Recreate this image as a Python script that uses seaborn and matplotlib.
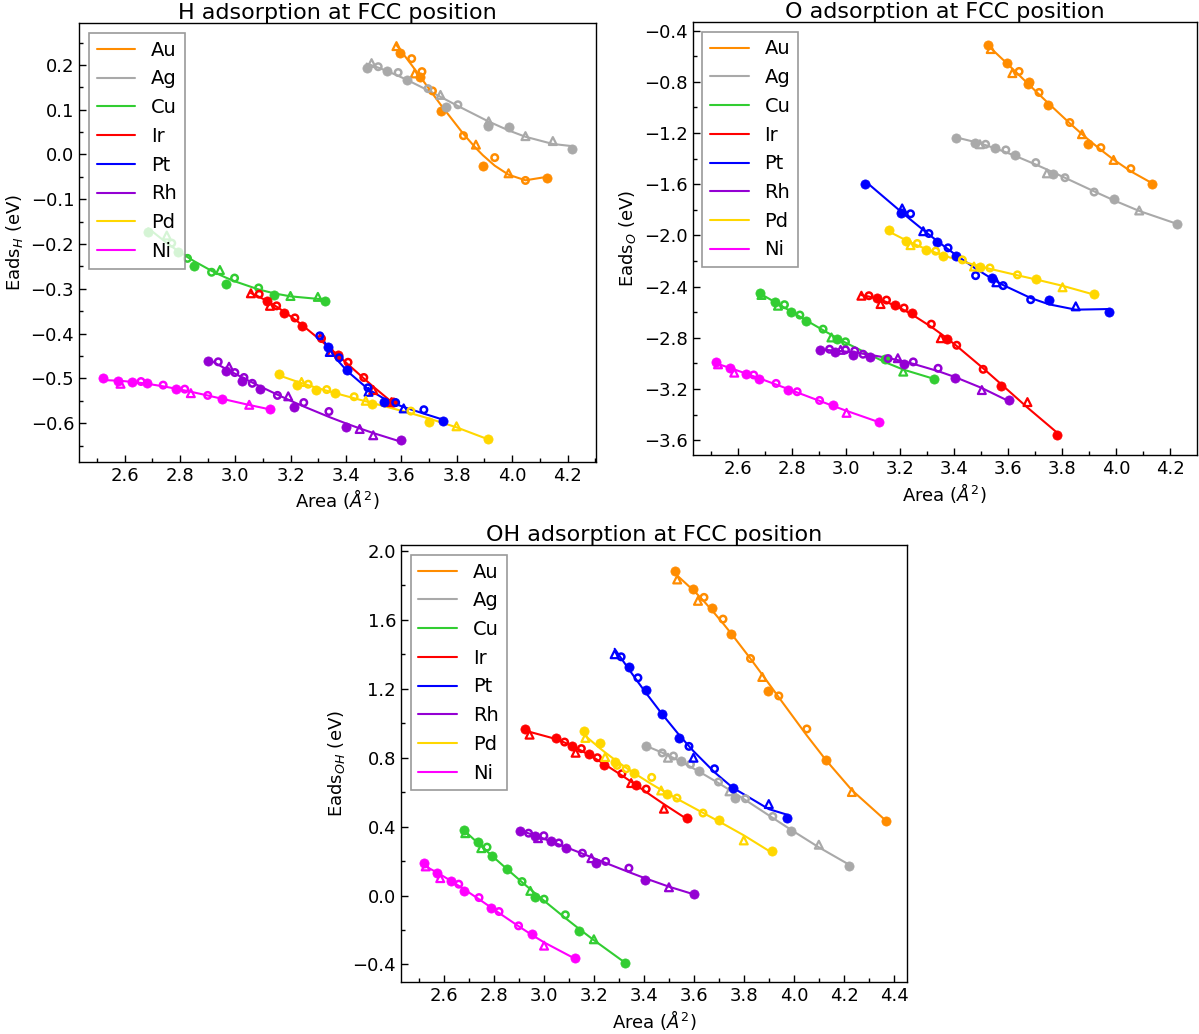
import numpy as np
import pandas as pd
import matplotlib
matplotlib.use("Agg")
import matplotlib.pyplot as plt
from matplotlib.ticker import MultipleLocator
import seaborn as sns

METALS = ["Au", "Ag", "Cu", "Ir", "Pt", "Rh", "Pd", "Ni"]
COLORS = ["darkorange", "darkgray", "limegreen", "red", "blue", "darkviolet", "gold", "magenta"]

# points: (area, eads, kind)
# kind: f = filled circle, o = open circle, t = open triangle

# ---- H adsorption ----
H_AU = [(3.582, 0.242, "t"), (3.594, 0.227, "f"), (3.637, 0.214, "o"), (3.648, 0.181, "t"),
        (3.674, 0.185, "o"), (3.666, 0.174, "f"), (3.712, 0.142, "o"), (3.742, 0.096, "f"),
        (3.824, 0.042, "o"), (3.869, 0.022, "t"), (3.937, -0.007, "o"), (3.894, -0.026, "f"),
        (3.987, -0.042, "t"), (4.048, -0.058, "o"), (4.126, -0.052, "f")]
H_AG = [(3.474, 0.193, "f"), (3.492, 0.204, "t"), (3.516, 0.196, "o"), (3.548, 0.187, "f"),
        (3.588, 0.183, "o"), (3.620, 0.167, "f"), (3.696, 0.147, "o"), (3.741, 0.133, "t"),
        (3.762, 0.106, "f"), (3.804, 0.111, "o"), (3.913, 0.064, "f"), (3.915, 0.074, "t"),
        (3.988, 0.061, "f"), (4.048, 0.041, "t"), (4.147, 0.030, "t"), (4.217, 0.013, "f")]
H_CU = [(2.685, -0.174, "f"), (2.752, -0.181, "t"), (2.770, -0.198, "o"), (2.793, -0.218, "f"),
        (2.827, -0.232, "o"), (2.851, -0.250, "f"), (2.914, -0.263, "o"), (2.944, -0.258, "t"),
        (2.965, -0.289, "f"), (2.997, -0.276, "o"), (3.084, -0.298, "o"), (3.140, -0.313, "f"),
        (3.199, -0.316, "t"), (3.298, -0.318, "t"), (3.323, -0.327, "f")]
H_IR = [(3.056, -0.310, "t"), (3.086, -0.312, "o"), (3.113, -0.328, "f"), (3.125, -0.338, "t"),
        (3.149, -0.338, "o"), (3.176, -0.353, "f"), (3.215, -0.365, "o"), (3.241, -0.383, "f"),
        (3.311, -0.411, "o"), (3.347, -0.441, "t"), (3.369, -0.448, "f"), (3.407, -0.464, "o"),
        (3.464, -0.498, "o"), (3.498, -0.526, "t"), (3.564, -0.553, "t"), (3.570, -0.552, "f")]
H_PT = [(3.305, -0.405, "o"), (3.335, -0.430, "f"), (3.341, -0.441, "t"), (3.375, -0.454, "o"),
        (3.404, -0.482, "f"), (3.479, -0.521, "o"), (3.481, -0.530, "t"), (3.536, -0.552, "f"),
        (3.579, -0.554, "o"), (3.608, -0.567, "t"), (3.681, -0.570, "o"), (3.750, -0.596, "f")]
H_RH = [(2.902, -0.461, "f"), (2.938, -0.463, "o"), (2.977, -0.474, "t"), (2.965, -0.483, "f"),
        (2.998, -0.487, "o"), (3.025, -0.506, "f"), (3.031, -0.498, "o"), (3.061, -0.511, "o"),
        (3.088, -0.524, "f"), (3.152, -0.538, "o"), (3.191, -0.540, "t"), (3.210, -0.563, "f"),
        (3.247, -0.554, "o"), (3.338, -0.574, "o"), (3.401, -0.609, "f"), (3.449, -0.613, "t"),
        (3.498, -0.627, "t"), (3.598, -0.638, "f")]
H_PD = [(3.158, -0.490, "f"), (3.239, -0.508, "t"), (3.223, -0.515, "f"), (3.263, -0.513, "o"),
        (3.291, -0.525, "f"), (3.330, -0.525, "o"), (3.359, -0.533, "f"), (3.429, -0.541, "o"),
        (3.471, -0.550, "t"), (3.492, -0.557, "f"), (3.634, -0.573, "o"), (3.699, -0.597, "f"),
        (3.799, -0.607, "t"), (3.913, -0.636, "f")]
H_NI = [(2.521, -0.500, "f"), (2.575, -0.506, "f"), (2.585, -0.512, "t"), (2.625, -0.509, "f"),
        (2.659, -0.507, "o"), (2.682, -0.511, "f"), (2.739, -0.515, "o"), (2.785, -0.524, "f"),
        (2.817, -0.524, "o"), (2.839, -0.533, "t"), (2.900, -0.538, "o"), (2.952, -0.547, "f"),
        (3.050, -0.559, "t"), (3.125, -0.569, "f")]

# ---- O adsorption ----
O_AU = [(3.526, -0.510, "f"), (3.536, -0.544, "t"), (3.598, -0.656, "f"), (3.616, -0.732, "t"),
        (3.641, -0.719, "o"), (3.676, -0.805, "f"), (3.674, -0.820, "f"), (3.715, -0.883, "o"),
        (3.749, -0.980, "f"), (3.829, -1.118, "o"), (3.874, -1.209, "t"), (3.897, -1.288, "f"),
        (3.944, -1.314, "o"), (3.991, -1.410, "t"), (4.055, -1.478, "o"), (4.132, -1.601, "f")]
O_AG = [(3.409, -1.236, "f"), (3.478, -1.277, "f"), (3.496, -1.288, "t"), (3.517, -1.288, "o"),
        (3.551, -1.319, "f"), (3.592, -1.332, "o"), (3.626, -1.371, "f"), (3.703, -1.431, "o"),
        (3.744, -1.515, "t"), (3.768, -1.518, "f"), (3.811, -1.549, "o"), (3.919, -1.661, "o"),
        (3.994, -1.713, "f"), (4.086, -1.805, "t"), (4.226, -1.914, "f")]
O_CU = [(2.680, -2.450, "f"), (2.687, -2.465, "t"), (2.736, -2.523, "f"), (2.748, -2.549, "t"),
        (2.772, -2.541, "o"), (2.798, -2.596, "f"), (2.829, -2.622, "o"), (2.853, -2.672, "f"),
        (2.915, -2.732, "o"), (2.946, -2.797, "t"), (2.965, -2.810, "f"), (2.998, -2.831, "o"),
        (3.144, -2.967, "f"), (3.212, -3.064, "t"), (3.326, -3.119, "f")]
O_IR = [(3.057, -2.471, "t"), (3.085, -2.471, "o"), (3.113, -2.492, "f"), (3.128, -2.536, "t"),
        (3.150, -2.505, "o"), (3.181, -2.541, "f"), (3.215, -2.567, "o"), (3.245, -2.609, "f"),
        (3.316, -2.693, "o"), (3.351, -2.803, "t"), (3.373, -2.813, "f"), (3.410, -2.858, "o"),
        (3.508, -3.046, "o"), (3.573, -3.176, "f"), (3.672, -3.302, "t"), (3.781, -3.556, "f")]
O_PT = [(3.072, -1.601, "f"), (3.208, -1.789, "t"), (3.202, -1.828, "f"), (3.239, -1.831, "o"),
        (3.286, -1.967, "t"), (3.307, -1.985, "o"), (3.338, -2.053, "f"), (3.378, -2.097, "o"),
        (3.409, -2.157, "f"), (3.480, -2.314, "o"), (3.542, -2.335, "f"), (3.557, -2.366, "t"),
        (3.582, -2.392, "o"), (3.684, -2.502, "o"), (3.752, -2.505, "f"), (3.851, -2.554, "t"),
        (3.975, -2.596, "f")]
O_RH = [(2.905, -2.897, "f"), (2.939, -2.889, "o"), (2.980, -2.894, "t"), (2.961, -2.907, "f"),
        (2.998, -2.894, "o"), (3.025, -2.933, "f"), (3.032, -2.902, "o"), (3.063, -2.928, "o"),
        (3.088, -2.949, "f"), (3.156, -2.962, "o"), (3.192, -2.959, "t"), (3.215, -3.007, "f"),
        (3.249, -2.988, "o"), (3.341, -3.038, "o"), (3.404, -3.116, "f"), (3.503, -3.208, "t"),
        (3.602, -3.286, "f")]
O_PD = [(3.159, -1.961, "f"), (3.224, -2.045, "f"), (3.239, -2.076, "t"), (3.264, -2.063, "o"),
        (3.295, -2.110, "f"), (3.332, -2.123, "o"), (3.360, -2.162, "f"), (3.431, -2.191, "o"),
        (3.474, -2.243, "t"), (3.495, -2.243, "f"), (3.533, -2.254, "o"), (3.635, -2.308, "o"),
        (3.705, -2.340, "f"), (3.802, -2.405, "t"), (3.919, -2.458, "f")]
O_NI = [(2.520, -2.988, "f"), (2.526, -3.007, "t"), (2.572, -3.033, "f"), (2.586, -3.072, "t"),
        (2.630, -3.080, "f"), (2.658, -3.090, "o"), (2.679, -3.119, "f"), (2.741, -3.156, "o"),
        (2.785, -3.208, "f"), (2.819, -3.221, "o"), (2.902, -3.289, "o"), (2.952, -3.325, "f"),
        (3.002, -3.386, "t"), (3.124, -3.456, "f")]

# ---- OH adsorption ----
OH_AU = [(3.524, 1.884, "f"), (3.532, 1.835, "t"), (3.597, 1.777, "f"), (3.615, 1.711, "t"),
         (3.639, 1.731, "o"), (3.672, 1.667, "f"), (3.715, 1.605, "o"), (3.748, 1.521, "f"),
         (3.825, 1.376, "o"), (3.872, 1.269, "t"), (3.894, 1.188, "f"), (3.938, 1.159, "o"),
         (4.050, 0.967, "o"), (4.127, 0.785, "f"), (4.230, 0.601, "t"), (4.367, 0.434, "f")]
OH_AG = [(3.408, 0.866, "f"), (3.472, 0.828, "o"), (3.495, 0.800, "t"), (3.517, 0.810, "o"),
         (3.548, 0.781, "f"), (3.585, 0.762, "o"), (3.619, 0.721, "f"), (3.697, 0.659, "o"),
         (3.741, 0.605, "t"), (3.764, 0.566, "f"), (3.805, 0.562, "o"), (3.914, 0.459, "o"),
         (3.987, 0.372, "f"), (4.098, 0.295, "t"), (4.220, 0.172, "f")]
OH_CU = [(2.680, 0.382, "f"), (2.685, 0.362, "t"), (2.736, 0.308, "f"), (2.749, 0.275, "t"),
         (2.772, 0.281, "o"), (2.793, 0.227, "f"), (2.853, 0.153, "f"), (2.912, 0.081, "o"),
         (2.945, 0.027, "t"), (2.965, -0.010, "f"), (3.000, -0.021, "o"), (3.085, -0.112, "o"),
         (3.139, -0.205, "f"), (3.199, -0.254, "t"), (3.322, -0.390, "f")]
OH_IR = [(2.922, 0.969, "f"), (2.942, 0.934, "t"), (3.046, 0.915, "f"), (3.082, 0.891, "o"),
         (3.111, 0.868, "f"), (3.149, 0.853, "o"), (3.126, 0.829, "t"), (3.178, 0.820, "f"),
         (3.213, 0.800, "o"), (3.239, 0.760, "f"), (3.311, 0.707, "o"), (3.348, 0.653, "t"),
         (3.368, 0.640, "f"), (3.408, 0.618, "o"), (3.479, 0.504, "t"), (3.571, 0.453, "f")]
OH_PT = [(3.282, 1.401, "t"), (3.308, 1.386, "o"), (3.339, 1.324, "f"), (3.375, 1.264, "o"),
         (3.408, 1.192, "f"), (3.472, 1.052, "f"), (3.539, 0.917, "f"), (3.579, 0.866, "o"),
         (3.597, 0.800, "t"), (3.681, 0.736, "o"), (3.754, 0.624, "f"), (3.898, 0.531, "t"),
         (3.970, 0.450, "f")]
OH_RH = [(2.902, 0.376, "f"), (2.938, 0.362, "o"), (2.962, 0.347, "f"), (2.976, 0.333, "t"),
         (2.999, 0.347, "o"), (3.026, 0.314, "f"), (3.059, 0.305, "o"), (3.086, 0.275, "f"),
         (3.153, 0.246, "o"), (3.189, 0.217, "t"), (3.209, 0.188, "f"), (3.246, 0.198, "o"),
         (3.339, 0.159, "o"), (3.402, 0.091, "f"), (3.499, 0.048, "t"), (3.599, 0.008, "f")]
OH_PD = [(3.158, 0.955, "f"), (3.165, 0.915, "t"), (3.223, 0.886, "f"), (3.244, 0.804, "t"),
         (3.284, 0.775, "f"), (3.292, 0.756, "o"), (3.328, 0.736, "o"), (3.359, 0.711, "f"),
         (3.430, 0.686, "o"), (3.468, 0.610, "t"), (3.492, 0.589, "f"), (3.531, 0.566, "o"),
         (3.635, 0.479, "o"), (3.701, 0.440, "f"), (3.798, 0.320, "t"), (3.912, 0.260, "f")]
OH_NI = [(2.520, 0.188, "f"), (2.527, 0.169, "t"), (2.572, 0.130, "f"), (2.585, 0.101, "t"),
         (2.629, 0.085, "f"), (2.659, 0.066, "o"), (2.679, 0.029, "f"), (2.740, -0.012, "o"),
         (2.786, -0.070, "f"), (2.820, -0.093, "o"), (2.898, -0.176, "o"), (2.952, -0.223, "f"),
         (3.000, -0.291, "t"), (3.122, -0.360, "f")]

H_DATA = [H_AU, H_AG, H_CU, H_IR, H_PT, H_RH, H_PD, H_NI]
O_DATA = [O_AU, O_AG, O_CU, O_IR, O_PT, O_RH, O_PD, O_NI]
OH_DATA = [OH_AU, OH_AG, OH_CU, OH_IR, OH_PT, OH_RH, OH_PD, OH_NI]

sns.set_style("white")
plt.rcParams["font.family"] = ["DejaVu Sans"]
plt.rcParams["mathtext.fontset"] = "dejavusans"
plt.rcParams["text.color"] = "black"
plt.rcParams["axes.labelcolor"] = "black"

fig = plt.figure(figsize=(11.99, 10.34), dpi=100)

# panel boxes in figure fractions, title, ylabel, y tick steps, limits
panels = [
    (H_DATA, [0.0659, 0.5535, 0.4312, 0.4240], "H adsorption at FCC position",
     r"Eads$_H$ (eV)", 0.1, 0.05, (2.435, 4.303), (-0.686, 0.293)),
    (O_DATA, [0.5777, 0.5600, 0.4204, 0.4188], "O adsorption at FCC position",
     r"Eads$_O$ (eV)", 0.4, 0.2, (2.432, 4.299), (-3.715, -0.332)),
    (OH_DATA, [0.3344, 0.0503, 0.4220, 0.4226], "OH adsorption at FCC position",
     r"Eads$_{OH}$ (eV)", 0.4, 0.2, (2.428, 4.450), (-0.502, 2.035)),
]

for data, box, title, ylab, ymaj, ymin, xlim, ylim in panels:
    ax = fig.add_axes(box)
    for metal, color, pts in zip(METALS, COLORS, data):
        df = pd.DataFrame(pts, columns=["area", "eads", "kind"])
        # cubic fit evaluated at the sampled areas
        coef = np.polyfit(df["area"], df["eads"], 3)
        xs = np.sort(df["area"].unique())
        sns.lineplot(x=xs, y=np.polyval(coef, xs), color=color, linewidth=1.5,
                     label=metal, estimator=None, ax=ax)

        f = df[df["kind"] == "f"]
        o = df[df["kind"] == "o"]
        t = df[df["kind"] == "t"]
        sns.scatterplot(x=f["area"], y=f["eads"], marker="o", s=44, color=color,
                        edgecolor=color, linewidth=0.5, legend=False, zorder=3, ax=ax)
        sns.scatterplot(x=o["area"], y=o["eads"], marker="o", s=22, color=color,
                        facecolor="none", edgecolor=color, linewidth=1.8, legend=False,
                        zorder=3, ax=ax)
        sns.scatterplot(x=t["area"], y=t["eads"], marker="^", s=32, color=color,
                        facecolor="none", edgecolor=color, linewidth=1.6, legend=False,
                        zorder=3, ax=ax)

    ax.set_xlim(*xlim)
    ax.set_ylim(*ylim)
    ax.xaxis.set_major_locator(MultipleLocator(0.2))
    ax.xaxis.set_minor_locator(MultipleLocator(0.1))
    ax.yaxis.set_major_locator(MultipleLocator(ymaj))
    ax.yaxis.set_minor_locator(MultipleLocator(ymin))
    ax.tick_params(which="both", direction="in", left=True, bottom=True,
                   top=False, right=False, colors="black", labelsize=13)
    ax.tick_params(which="major", length=5, width=1)
    ax.tick_params(which="minor", length=3, width=1)
    for sp in ax.spines.values():
        sp.set_color("black")
        sp.set_linewidth(1.0)

    ax.set_title(title, fontsize=16, pad=3, color="black")
    ax.set_xlabel(r"Area ($\AA^2$)", fontsize=13, labelpad=2)
    ax.set_ylabel(ylab, fontsize=13, labelpad=4)

    handles, labels = ax.get_legend_handles_labels()
    leg = ax.legend(handles, labels, loc="upper left", fontsize=14, fancybox=False,
                    framealpha=0.8, edgecolor="gray")
    leg.get_frame().set_linewidth(1.2)
    for txt in leg.get_texts():
        txt.set_color("black")

fig.savefig("out.png", dpi=100)
